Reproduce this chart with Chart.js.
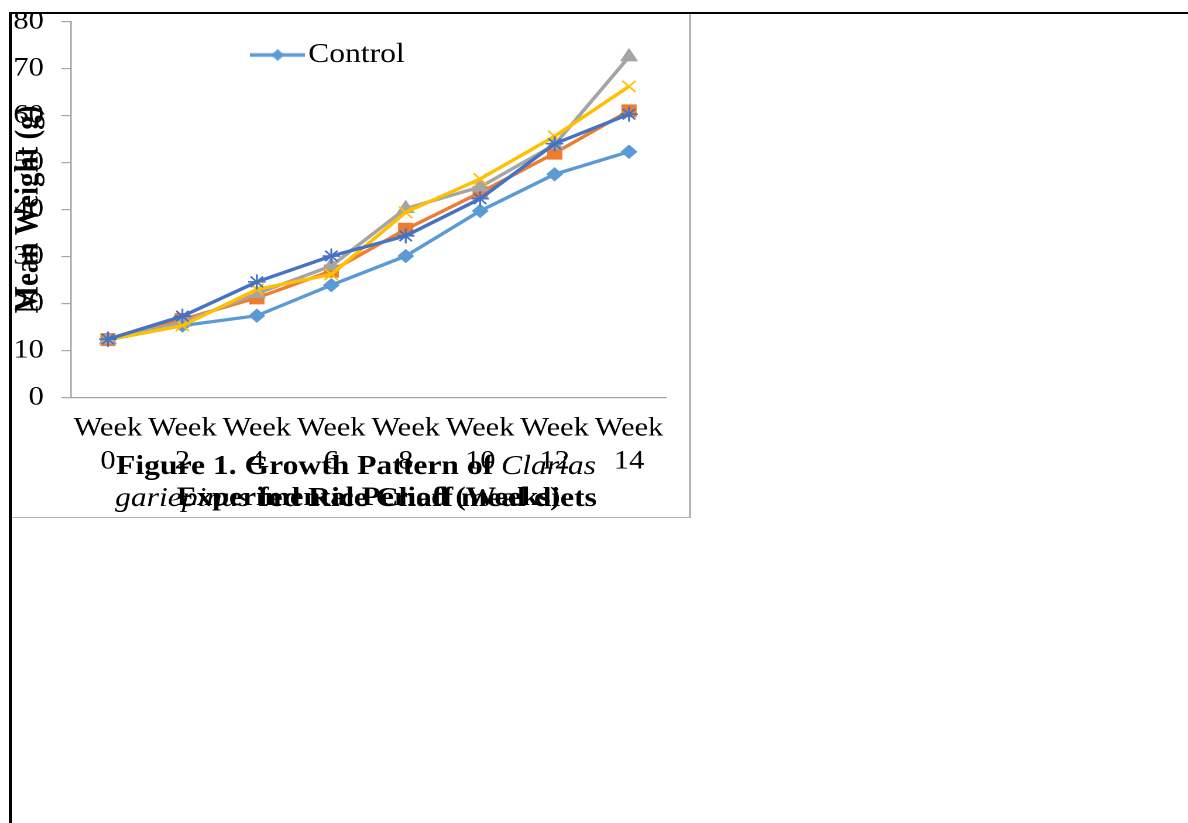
<!DOCTYPE html>
<html>
<head>
<meta charset="utf-8">
<script src="https://cdn.jsdelivr.net/npm/chart.js@4.4.1/dist/chart.umd.min.js"></script>
<style>
  html, body { margin: 0; padding: 0; background: #fff; width: 1188px; height: 823px; overflow: hidden; position: relative; }
  #frame { position: absolute; left: 10px; top: 13px; width: 681px; height: 505px; box-sizing: border-box;
           border-right: 2px solid #b4b4b4; border-bottom: 1.5px solid #b4b4b4; }
  #clip { position: absolute; left: 10px; top: 14px; width: 679px; height: 502px; overflow: hidden; }
  #wrap { position: absolute; left: 0; top: -23px; width: 581px; height: 526px;
          transform: scaleX(1.1704); transform-origin: 0 0; }
  #rule-top { position: absolute; left: 9px; top: 12px; width: 1179px; height: 2px; background: #000; }
  #rule-left { position: absolute; left: 9px; top: 12px; width: 3px; height: 811px; background: #000; }
</style>
</head>
<body>
<div id="frame"></div>
<div id="clip"><div id="wrap"><canvas id="growth" width="581" height="526"></canvas></div></div>
<div id="rule-top"></div>
<div id="rule-left"></div>
<script>
// Sampling weeks (two-line tick labels)
const weekLabels = [['Week', '0'], ['Week', '2'], ['Week', '4'], ['Week', '6'],
                    ['Week', '8'], ['Week', '10'], ['Week', '12'], ['Week', '14']];

// Mean weight (g) per diet
const controlWeights = [12.3, 15.3, 17.4, 23.9, 30.1, 39.7, 47.5, 52.3];
const diet2Weights   = [12.3, 16.6, 21.2, 26.9, 35.8, 43.6, 52.0, 61.0];
const diet3Weights   = [12.3, 16.0, 22.1, 28.0, 40.2, 44.8, 53.8, 72.5];
const diet4Weights   = [12.3, 15.3, 23.0, 26.2, 39.4, 46.5, 55.6, 66.2];
const diet5Weights   = [12.4, 17.3, 24.6, 30.1, 34.4, 42.3, 54.0, 60.3];

const yTicksMin = 0, yTicksMax = 80, yTicksStep = 10;

const yTitle = 'Mean Weight (g)';
const xTitle = 'Experimental Period (Weeks)';
const captionLines = [
  [['Figure 1. Growth Pattern of ', 'bold'], ['Clarias', 'italic']],
  [['gariepinus', 'italic'], [' fed Rice Chaff meal diets', 'bold']]
];

const FONT = '"Liberation Serif", "Times New Roman", serif';
Chart.defaults.font.family = FONT;
Chart.defaults.color = '#000';

const LEGEND_SIZE = 27;

function series(label, data, color, style, radius, order) {
  const stroked = (style === 'crossRot' || style === 'star');
  return {
    label, data, order,
    borderColor: color, backgroundColor: color,
    borderWidth: 3.3, tension: 0,
    pointStyle: style, pointRadius: radius, pointHoverRadius: radius,
    pointBackgroundColor: color, pointBorderColor: color,
    pointBorderWidth: stroked ? 1.6 : 1
  };
}

// legend swatch: short line with the series marker in the middle
function legendSwatch(color) {
  const c = document.createElement('canvas');
  c.width = 47; c.height = 14;
  const g = c.getContext('2d');
  g.strokeStyle = color; g.lineWidth = 3.3;
  g.beginPath(); g.moveTo(0, 7); g.lineTo(47, 7); g.stroke();
  g.fillStyle = color;
  g.beginPath(); g.moveTo(23.5, 1); g.lineTo(29, 7); g.lineTo(23.5, 13); g.lineTo(18, 7); g.closePath(); g.fill();
  return c;
}

// the legend sits inside the plot area, just under its top edge
const legendInPlot = {
  id: 'legendInPlot',
  afterLayout(chart) {
    const lg = chart.legend;
    if (!lg) return;
    const h = lg.bottom - lg.top;
    lg.top = 64 - LEGEND_SIZE / 2;
    lg.bottom = lg.top + h;
  }
};

// figure caption drawn under the plot, mixed bold / italic runs
const captionPlugin = {
  id: 'caption',
  afterDraw(chart) {
    const ctx = chart.ctx;
    const size = 27, centerX = 295.6, baselines = [483, 515];
    ctx.save();
    ctx.fillStyle = '#000';
    ctx.textBaseline = 'alphabetic';
    ctx.textAlign = 'left';
    captionLines.forEach((runs, i) => {
      let total = 0;
      const widths = runs.map(([t, s]) => {
        ctx.font = `${s} ${size}px ${FONT}`;
        const w = ctx.measureText(t).width;
        total += w;
        return w;
      });
      let x = centerX - total / 2;
      runs.forEach(([t, s], j) => {
        ctx.font = `${s} ${size}px ${FONT}`;
        ctx.fillText(t, x, baselines[i]);
        x += widths[j];
      });
    });
    ctx.restore();
  }
};

new Chart(document.getElementById('growth'), {
  type: 'line',
  data: {
    labels: weekLabels,
    datasets: [
      series('Control', controlWeights, '#5B9BD5', 'rectRot', 6.5, 5),
      series('Diet 2', diet2Weights, '#ED7D31', 'rect', 8.5, 4),
      series('Diet 3', diet3Weights, '#A5A5A5', 'triangle', 8, 3),
      series('Diet 4', diet4Weights, '#FFC000', 'crossRot', 8, 2),
      series('Diet 5', diet5Weights, '#4472C4', 'star', 7.5, 1)
    ]
  },
  options: {
    responsive: false,
    devicePixelRatio: 2,
    animation: false,
    events: [],
    layout: { autoPadding: false, padding: { left: -7.3, right: 20.3, top: -20, bottom: 3.2 } },
    plugins: {
      tooltip: { enabled: false },
      title: { display: false },
      legend: {
        position: 'top',
        align: 'center',
        labels: {
          usePointStyle: true,
          pointStyleWidth: 25,
          padding: 0,
          color: '#000',
          font: { size: LEGEND_SIZE, family: FONT },
          filter: (item) => item.datasetIndex === 0,
          generateLabels(chart) {
            const items = Chart.defaults.plugins.legend.labels.generateLabels(chart);
            items.forEach(it => {
              it.pointStyle = legendSwatch(chart.data.datasets[it.datasetIndex].borderColor);
            });
            return items;
          }
        }
      }
    },
    scales: {
      x: {
        type: 'category',
        offset: true,
        grid: { display: false, drawTicks: false },
        border: { display: true, color: '#a6a6a6', width: 1.3 },
        ticks: {
          color: '#000', font: { size: 26, lineHeight: 1.27 },
          padding: 14.7, autoSkip: false, maxRotation: 0, minRotation: 0
        },
        title: {
          display: true, text: xTitle, color: '#000',
          font: { size: 26, weight: 'bold', lineHeight: 1.2 },
          padding: { top: -10.3, bottom: 0 }
        }
      },
      y: {
        min: yTicksMin, max: yTicksMax,
        ticks: { stepSize: yTicksStep, color: '#000', font: { size: 26 }, padding: 15 },
        grid: { drawOnChartArea: false, drawTicks: true, tickLength: 8, color: '#a6a6a6', lineWidth: 1.2 },
        border: { display: true, color: '#a6a6a6', width: 1.3 },
        title: {
          display: true, text: yTitle, color: '#000',
          font: { size: 29, weight: 'bold', lineHeight: 1.2 },
          padding: { top: 6.1, bottom: -45.7 }
        }
      }
    }
  },
  plugins: [legendInPlot, captionPlugin]
});
</script>
</body>
</html>
